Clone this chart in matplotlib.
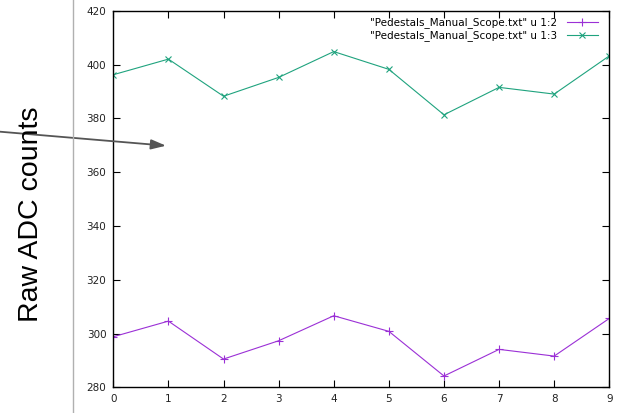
import matplotlib
matplotlib.use("Agg")
import matplotlib.pyplot as plt

x = [0, 1, 2, 3, 4, 5, 6, 7, 8, 9]
col2 = [298.8, 304.6, 290.5, 297.3, 306.6, 300.8, 284.2, 294.1, 291.6, 305.6]
col3 = [396.2, 402.0, 388.2, 395.2, 404.8, 398.2, 381.3, 391.5, 389.0, 403.2]
labels = ['"Pedestals_Manual_Scope.txt" u 1:2', '"Pedestals_Manual_Scope.txt" u 1:3']
xticks = [0, 1, 2, 3, 4, 5, 6, 7, 8, 9]
yticks = [280, 300, 320, 340, 360, 380, 400, 420]

fig = plt.figure(figsize=(6.24, 4.13), dpi=100)
ax = fig.add_axes([113.3/624, 1-387.3/413, (609.3-113.3)/624, (387.3-10.7)/413])

ax.plot(x, col2, color='#9b30d6', lw=0.8, marker='+', ms=5.5, mew=0.8, label=labels[0])
ax.plot(x, col3, color='#1fa37e', lw=0.8, marker='x', ms=4.5, mew=0.8, label=labels[1])

ax.set_xlim(0, 9)
ax.set_ylim(280, 420)
ax.set_xticks(xticks)
ax.set_yticks(yticks)
ax.tick_params(direction='in', length=5, width=0.8, top=True, right=True,
               labelsize=7.5, labelcolor='#222222', pad=5)
for s in ax.spines.values():
    s.set_linewidth(1.0)
    s.set_color('black')

leg = ax.legend(loc='upper right', frameon=False, markerfirst=False,
                fontsize=7.5, handlelength=3.0, handletextpad=0.9,
                labelspacing=0.2, borderaxespad=0, borderpad=0.2,
                bbox_to_anchor=(600/624, 1-15.5/413), bbox_transform=fig.transFigure)

# left gray vertical line and annotation
fig.add_artist(plt.Line2D([73/624, 73/624], [0, 1], transform=fig.transFigure,
                          color='#b0b0b0', lw=1.0))
fig.text(31/624, 1-214/413, 'Raw ADC counts', rotation=90, ha='center', va='center',
         fontsize=20.5, family='Liberation Sans', color='black')
ax.annotate('', xy=(166/624, 1-145.7/413), xycoords='figure fraction',
            xytext=(0, 1-131.7/413), textcoords='figure fraction',
            arrowprops=dict(arrowstyle='-|>,head_length=0.9,head_width=0.3',
                            color='#555555', lw=1.3, shrinkA=0, shrinkB=0),
            annotation_clip=False)

fig.savefig('out.png', dpi=100)
